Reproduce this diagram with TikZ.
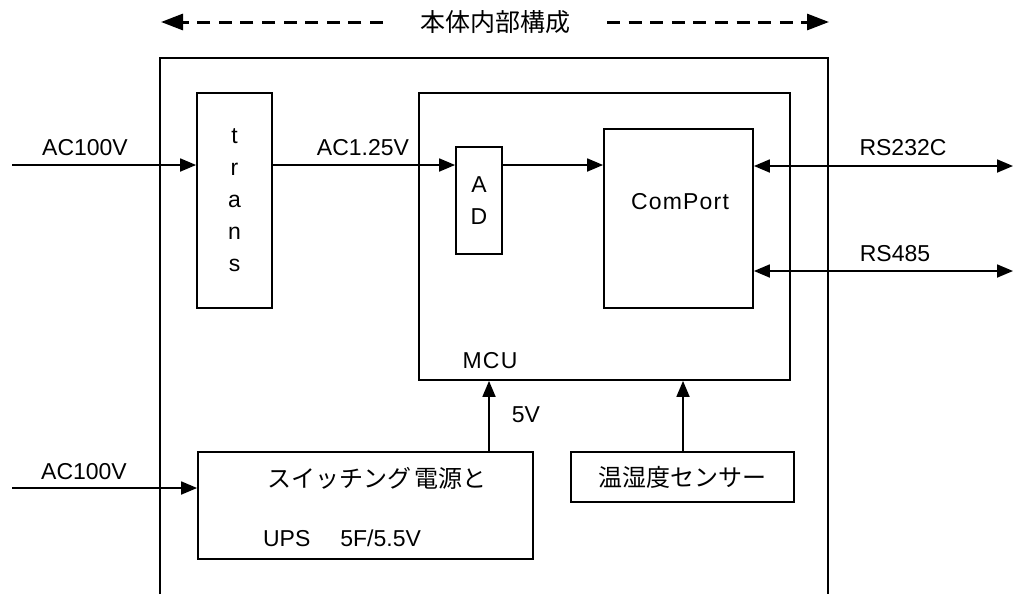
\documentclass[tikz,border=0pt]{standalone}
\usepackage{fontspec}
\setmainfont{Liberation Sans}
\newfontfamily\jp{Noto Sans CJK JP}
\usetikzlibrary{arrows.meta}
\begin{document}
\begin{tikzpicture}[x=0.5pt,y=-0.5pt,
  block/.style={draw,line width=0.9pt,inner sep=0pt},
  lab/.style={inner sep=0pt,font=\fontsize{11.5}{14}\selectfont},
  vlab/.style={align=center,font=\fontsize{11.5}{16}\selectfont},
  jlab/.style={inner sep=0pt,font=\jp\fontsize{12}{14}\selectfont},
  wire/.style={line width=0.9pt,-{Triangle[length=8pt,width=6.5pt]}},
  bus/.style={line width=0.9pt,{Triangle[length=8pt,width=6.5pt]}-{Triangle[length=8pt,width=6.5pt]}},
  span/.style={line width=1.5pt,dash pattern=on 6.5pt off 4.3pt,-{Triangle[length=11pt,width=8pt]}}]
\useasboundingbox (0,0) rectangle (1015,594);

% heading with the dashed extent arrows
\node[jlab,font=\jp\fontsize{12.5}{14}\selectfont] (title) at (495,22) {本体内部構成};
\coordinate (dl) at (383,22);
\coordinate (tl) at (161,22);
\coordinate (dr) at (607,22);
\coordinate (tr) at (829,22);
\draw[span] (dl) -- (tl);
\draw[span] (dr) -- (tr);

% enclosure, open at the bottom
\draw[line width=0.9pt] (160,594) -- (160,58) -- (828,58) -- (828,594);

% blocks
\node[block,minimum width=37.5pt,minimum height=107.5pt,vlab] (trans) at (234.5,200.5) {t\\r\\a\\n\\s};
\node[block,minimum width=185.5pt,minimum height=143.5pt] (mcu) at (604.5,236.5) {};
\node[block,minimum width=23pt,minimum height=53.5pt,vlab] (ad) at (479,200.5) {A\\D};
\node[block,minimum width=74.5pt,minimum height=89.5pt] (com) at (678.5,218.5) {};
\node[block,minimum width=167.5pt,minimum height=53.5pt] (psu) at (365.5,505.5) {};
\node[block,minimum width=111.5pt,minimum height=25pt,jlab] (sens) at (682.5,477) {温湿度センサー};

% block captions
\node[lab] (comtxt) at (680,202) {C\kern0.6pt o\kern0.6pt m\kern0.6pt P\kern0.6pt o\kern0.6pt r\kern0.6pt t};
\node[lab] (mcutxt) at (490,361) {M\kern0.6pt C\kern0.6pt U};
\node[jlab] (psutxt1) at (377,478) {スイッチング\kern2pt 電源と};
\node[lab] (psutxt2) at (342,538) {UPS\hspace{15pt}5F/5.5V};

% inputs and outputs
\coordinate (in1) at (12,165);
\coordinate (in2) at (12,488);
\coordinate (rs1) at (1013,166);
\coordinate (rs2) at (1013,271);
\draw[wire] (in1) -- (in1 -| trans.west);
\draw[wire] (trans.east |- in1) -- (ad.west |- in1);
\draw[wire] (ad.east |- in1) -- (com.west |- in1);
\draw[bus] (com.east |- rs1) -- (rs1);
\draw[bus] (com.east |- rs2) -- (rs2);
\draw[wire] (in2) -- (in2 -| psu.west);
\draw[wire] (psu.north -| 489,0) -- (mcu.south -| 489,0);
\draw[wire] (sens.north -| 683,0) -- (mcu.south -| 683,0);

% line labels
\node[lab] (l1) at (85,148) {AC100V};
\node[lab] (l2) at (363,148) {AC1.25V};
\node[lab] (l3) at (903,148) {RS232C};
\node[lab] (l4) at (895,254) {RS485};
\node[lab] (l5) at (84,472) {AC100V};
\node[lab] (l6) at (526,415) {5V};
\end{tikzpicture}
\end{document}
